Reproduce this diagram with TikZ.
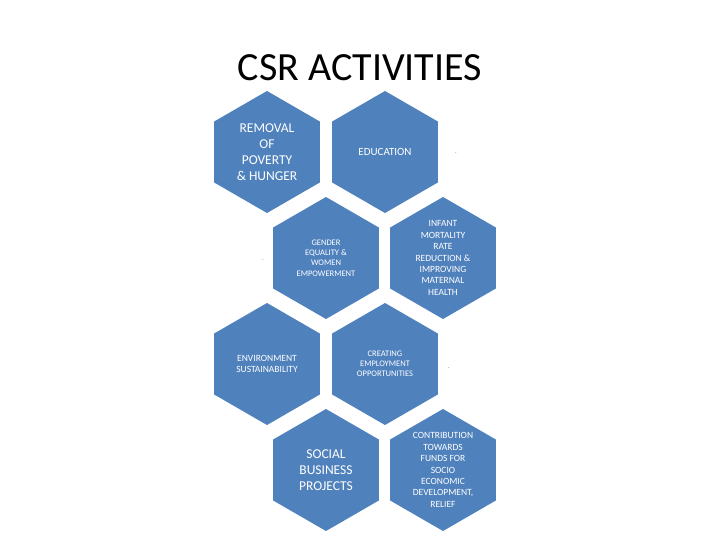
\documentclass[tikz,border=0pt]{standalone}
\usepackage{fontspec}
\setmainfont{Carlito}
\usetikzlibrary{shapes.geometric}
\definecolor{hexblue}{HTML}{4F81BD}
\begin{document}
\begin{tikzpicture}[x=1pt,y=-1pt,
  hexa/.style={regular polygon,regular polygon sides=6,shape border rotate=30,minimum size=122pt,inner sep=0pt,fill=hexblue,draw=none,text=white,align=center,font=\fontsize{#1}{1.2\dimexpr#1pt\relax}\selectfont}]
\useasboundingbox (0,0) rectangle (720,540);
\node (title) at (360,68) {\fontsize{40}{44}\selectfont CSR ACTIVITIES};
\node[hexa=13.5] (pov) at (267,152) {REMOVAL\\OF\\POVERTY\\\& HUNGER};
\node[hexa=11] (edu) at (385,152) {EDUCATION};
\node[hexa=8.5] (gen) at (326,258) {GENDER\\EQUALITY \&\\WOMEN\\EMPOWERMENT};
\node[hexa=9.5] (inf) at (443,258) {INFANT\\MORTALITY\\RATE\\REDUCTION \&\\IMPROVING\\MATERNAL\\HEALTH};
\node[hexa=9.5] (env) at (267,364) {ENVIRONMENT\\SUSTAINABILITY};
\node[hexa=8.5] (cre) at (385,364) {CREATING\\EMPLOYMENT\\OPPORTUNITIES};
\node[hexa=13.5] (soc) at (326,470) {SOCIAL\\BUSINESS\\PROJECTS};
\node[hexa=9.5] (con) at (443,470) {CONTRIBUTION\\TOWARDS\\FUNDS FOR\\SOCIO\\ECONOMIC\\DEVELOPMENT,\\RELIEF};
\node[font=\tiny] (d1) at (456,153) {.};
\node[font=\tiny] (d2) at (263,260) {.};
\node[font=\tiny] (d3) at (449,368) {.};
\end{tikzpicture}
\end{document}
